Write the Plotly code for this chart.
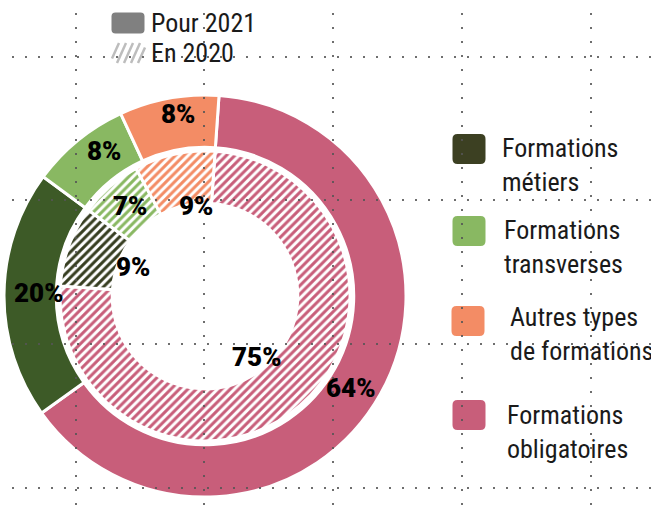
import plotly.graph_objects as go

W, H = 651, 510

# ---------------- data ----------------
categories = ["Formations métiers", "Formations transverses",
              "Autres types de formations", "Formations obligatoires"]
legend_text = ["Formations<br>métiers", "Formations<br>transverses",
               "Autres types<br>de formations", "Formations<br>obligatoires"]
values_2021 = [20, 8, 8, 64]
values_2020 = [9, 7, 9, 75]
series_names = ["Pour 2021", "En 2020"]

colors_2021 = ["#3d5a27", "#89b862", "#f38c65", "#c85e7a"]
colors_2020 = ["#363d20", "#89b862", "#f38c65", "#c85e7a"]
legend_colors = ["#3c4022", "#89b862", "#f38c65", "#c85e7a"]

slice_order = [3, 0, 1, 2]  # clockwise from 12 o'clock: obligatoires first

# ---------------- helpers ----------------
def px(x):
    return x / W


def py(y):
    return 1 - y / H


def domain(cx, cy, r):
    return dict(x=[px(cx - r), px(cx + r)], y=[py(cy + r), py(cy - r)])


CX, CY = 205, 296
FONT = "Liberation Sans Narrow, Roboto Condensed, Arial Narrow, DejaVu Sans Condensed, sans-serif"
LABEL_FONT = "Roboto, Liberation Sans, Arial, sans-serif"

fig = go.Figure()

# outer ring: 2021
fig.add_trace(go.Pie(
    labels=[categories[i] for i in slice_order],
    values=[values_2021[i] for i in slice_order],
    sort=False, direction="clockwise", rotation=4,
    hole=0.74,
    domain=domain(CX, CY, 201),
    marker=dict(colors=[colors_2021[i] for i in slice_order],
                line=dict(color="white", width=3)),
    textinfo="none", hoverinfo="skip", showlegend=False,
    name=series_names[0],
))

# inner ring: 2020 (hatched)
fig.add_trace(go.Pie(
    labels=[categories[i] for i in slice_order],
    values=[values_2020[i] for i in slice_order],
    sort=False, direction="clockwise", rotation=4,
    hole=0.64,
    domain=domain(CX, CY, 145),
    marker=dict(colors=[colors_2020[i] for i in slice_order],
                line=dict(color="white", width=3),
                pattern=dict(shape="/", size=6, solidity=0.5,
                             fgcolor=[colors_2020[i] for i in slice_order],
                             bgcolor="white", fillmode="replace")),
    textinfo="none", hoverinfo="skip", showlegend=False,
    name=series_names[1],
))

annotations = []
shapes = []

# percentage labels (positions in pixels, category order)
label_pos_2021 = [(38, 293), (104, 151), (178, 114), (350, 388)]
label_pos_2020 = [(133, 267), (130, 206), (196, 206), (256, 357)]
for vals, poss in ((values_2021, label_pos_2021), (values_2020, label_pos_2020)):
    for v, (x, y) in zip(vals, poss):
        annotations.append(dict(
            x=px(x), y=py(y), xref="paper", yref="paper",
            text=f"{v}%", showarrow=False,
            xanchor="center", yanchor="middle",
            font=dict(family=LABEL_FONT, size=26, color="#000000", weight=900)))


def rounded_square(cx, cy, w, h, r, color):
    hw, hh = w / 2, h / 2
    path = (f"M {-hw + r},{-hh} L {hw - r},{-hh} Q {hw},{-hh} {hw},{-hh + r} "
            f"L {hw},{hh - r} Q {hw},{hh} {hw - r},{hh} L {-hw + r},{hh} "
            f"Q {-hw},{hh} {-hw},{hh - r} L {-hw},{-hh + r} Q {-hw},{-hh} {-hw + r},{-hh} Z")
    return dict(type="path", xref="paper", yref="paper",
                xsizemode="pixel", ysizemode="pixel",
                xanchor=px(cx), yanchor=py(cy), path=path,
                fillcolor=color, line=dict(width=0), layer="below")


# right legend
legend_sq = [(469, 149), (469, 231), (468, 321), (469, 415)]
legend_txt = [(500, 165), (502, 247), (508, 334), (505, 432)]
for i in range(len(categories)):
    sx, sy = legend_sq[i]
    shapes.append(rounded_square(sx, sy, 33, 30, 5, legend_colors[i]))
    tx, ty = legend_txt[i]
    annotations.append(dict(
        x=px(tx), y=py(ty), xref="paper", yref="paper",
        text=legend_text[i], showarrow=False, align="left",
        xanchor="left", yanchor="middle",
        font=dict(family=FONT, size=26, color="#1a1a1a")))

# top legend
shapes.append(rounded_square(128, 23, 33, 21, 4, "#808080"))
annotations.append(dict(x=px(149), y=py(23), xref="paper", yref="paper",
                        text=series_names[0], showarrow=False,
                        xanchor="left", yanchor="middle",
                        font=dict(family=FONT, size=26, color="#1a1a1a")))
annotations.append(dict(x=px(149), y=py(53), xref="paper", yref="paper",
                        text=series_names[1], showarrow=False,
                        xanchor="left", yanchor="middle",
                        font=dict(family=FONT, size=26, color="#1a1a1a")))
# hatched square for 2020
hx0, hx1, hy0, hy1 = 112, 145, 43, 63
slope_dx = 9
xb = hx0 - slope_dx
while xb < hx1:
    x0, y0, x1, y1 = xb, hy1, xb + slope_dx, hy0
    k = (hy0 - hy1) / slope_dx
    if x0 < hx0:
        y0 = hy1 + (hx0 - xb) * k
        x0 = hx0
    if x1 > hx1:
        y1 = hy1 + (hx1 - xb) * k
        x1 = hx1
    shapes.append(dict(type="line", xref="paper", yref="paper",
                       x0=px(x0), y0=py(y0), x1=px(x1), y1=py(y1),
                       line=dict(color="#bdbdbd", width=2.5), layer="below"))
    xb += 7

# dotted grid on top
for gy in (57, 200, 344, 488):
    shapes.append(dict(type="line", xref="paper", yref="paper",
                       x0=px(12), x1=px(W), y0=py(gy), y1=py(gy),
                       line=dict(color="#555555", width=2, dash="2px,11px"),
                       layer="above", opacity=0.85))
for gx in (76, 204, 333, 462, 591):
    shapes.append(dict(type="line", xref="paper", yref="paper",
                       x0=px(gx), x1=px(gx), y0=py(13), y1=py(H),
                       line=dict(color="#555555", width=2, dash="2px,12px"),
                       layer="above", opacity=0.85))

fig.update_layout(
    width=W, height=H, autosize=False,
    margin=dict(l=0, r=0, t=0, b=0),
    paper_bgcolor="white", plot_bgcolor="white",
    annotations=annotations, shapes=shapes,
    showlegend=False,
)

fig.write_html(
    "out.html",
    config={"displayModeBar": False, "staticPlot": True},
    post_script="document.body.style.margin='0';document.body.style.overflow='hidden';",
)
